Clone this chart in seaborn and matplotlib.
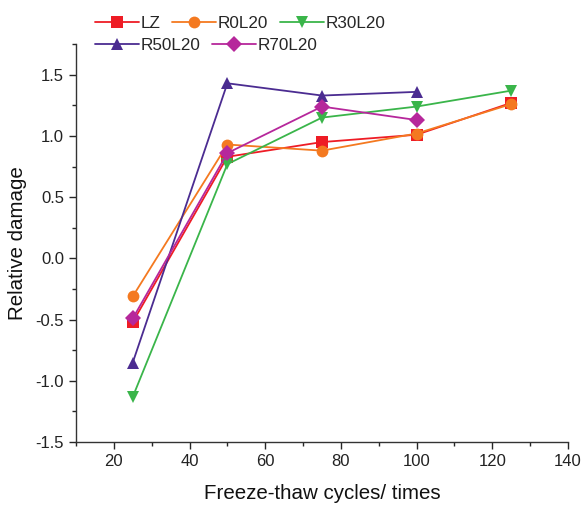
import numpy as np
import pandas as pd
import matplotlib
matplotlib.use("Agg")
import matplotlib.pyplot as plt
import seaborn as sns
from matplotlib.ticker import MultipleLocator

cycles = [25, 50, 75, 100, 125]
LZ = [-0.52, 0.83, 0.95, 1.01, 1.27]
R0L20 = [-0.31, 0.93, 0.88, 1.02, 1.26]
R30L20 = [-1.13, 0.77, 1.15, 1.24, 1.37]
R50L20 = [-0.85, 1.43, 1.33, 1.36]
R70L20 = [-0.49, 0.86, 1.24, 1.13]

series_names = ["LZ", "R0L20", "R30L20", "R50L20", "R70L20"]
series_vals = [LZ, R0L20, R30L20, R50L20, R70L20]
colors = ["#EE1C25", "#F47920", "#3AB54A", "#4B2C91", "#B6279B"]
markers = ["s", "o", "v", "^", "D"]

rows = []
for n, vals in zip(series_names, series_vals):
    for x, y in zip(cycles, vals):
        rows.append({"cycles": x, "damage": y, "series": n})
df = pd.DataFrame(rows)

sns.set_style("ticks")
plt.rcParams['font.family'] = ['Liberation Sans', 'DejaVu Sans']

fig = plt.figure(figsize=(5.87, 5.07), dpi=100)
ax = fig.add_axes([0.1295, 0.128, 0.838, 0.785])

sns.lineplot(data=df, x="cycles", y="damage", hue="series", style="series",
             hue_order=series_names, style_order=series_names,
             palette=dict(zip(series_names, colors)),
             markers=dict(zip(series_names, markers)), dashes=False,
             markersize=8.5, linewidth=1.3, markeredgewidth=0, ax=ax, legend=True)

handles, labels = ax.get_legend_handles_labels()
ax.get_legend().remove()

ax.set_xlim(10, 140)
ax.set_ylim(-1.5, 1.75)
ax.xaxis.set_major_locator(MultipleLocator(20))
ax.xaxis.set_minor_locator(MultipleLocator(10))
ax.yaxis.set_minor_locator(MultipleLocator(0.25))
ax.set_yticks(np.arange(-1.5, 1.51, 0.5))
ax.set_yticklabels([f"{v:.1f}" for v in np.arange(-1.5, 1.51, 0.5)])
ax.tick_params(which="major", length=5, width=1, labelsize=12, direction="out",
               labelcolor="#222222")
ax.tick_params(which="minor", length=3, width=1, direction="out")
for s in ["top", "right"]:
    ax.spines[s].set_visible(False)
for s in ["left", "bottom"]:
    ax.spines[s].set_linewidth(1)
    ax.spines[s].set_color("#333333")

ax.set_xlabel("Freeze-thaw cycles/ times", fontsize=14.8, labelpad=11, color="#111111")
ax.set_ylabel("Relative damage", fontsize=14.8, labelpad=6, color="#111111")

lkw = dict(frameon=False, loc="center left", fontsize=12.3, handlelength=2.55,
           columnspacing=0.7, handletextpad=0.12, borderaxespad=0, borderpad=0)
fig.legend(handles[:3], labels[:3], ncol=3,
           bbox_to_anchor=(95 / 587, 1 - 23 / 507), **lkw)
fig.legend(handles[3:], labels[3:], ncol=2,
           bbox_to_anchor=(95 / 587, 1 - 45 / 507), **lkw)

fig.savefig("out.png", dpi=100)
